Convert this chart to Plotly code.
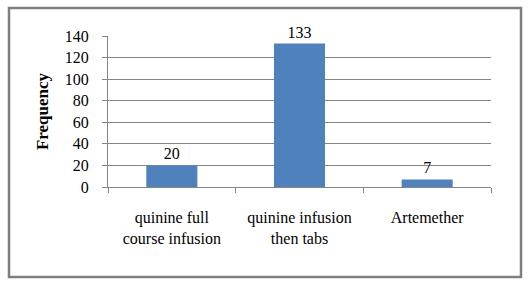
import plotly.graph_objects as go

categories = ["quinine full<br>course infusion", "quinine infusion<br>then tabs", "Artemether"]
values = [20, 133, 7]
y_ticks = [0, 20, 40, 60, 80, 100, 120, 140]

W, H = 530, 289
L, R, T, B = 108, 39, 36, 102
pw, ph = W - L - R, H - T - B

def px_x(x):
    return (x - L) / pw

def px_y(y):
    return (H - B - y) / ph

fig = go.Figure(go.Bar(
    x=categories, y=values, width=0.4,
    marker=dict(color="#4F81BD", line=dict(width=0)),
    text=[str(v) for v in values], textposition="outside",
    textfont=dict(family="Liberation Serif", size=16, color="black"),
    cliponaxis=False,
))

fig.update_layout(
    width=W, height=H,
    margin=dict(l=L, r=R, t=T, b=B, autoexpand=False),
    paper_bgcolor="white", plot_bgcolor="white",
    showlegend=False,
    font=dict(family="Liberation Serif", size=16, color="black"),
    bargap=0.6,
)
fig.update_xaxes(
    type="category", showline=True, linecolor="#868686", linewidth=1,
    ticks="outside", tickson="boundaries", ticklen=5, tickcolor="#868686",
    showgrid=False, tickfont=dict(size=16), ticklabelstandoff=16,
    automargin=False,
)
fig.update_yaxes(
    range=[0, 140], tickvals=y_ticks, showline=True, linecolor="#868686", linewidth=1,
    ticks="outside", ticklen=5, tickcolor="#868686",
    showgrid=True, gridcolor="#868686", gridwidth=1, zeroline=False,
    tickfont=dict(size=16), ticklabelstandoff=10, automargin=False,
    title=dict(text="<b>Frequency</b>", font=dict(size=17), standoff=11),
)
fig.add_shape(type="rect", xref="paper", yref="paper",
              x0=px_x(9), x1=px_x(521), y0=px_y(277), y1=px_y(8),
              line=dict(color="#7F7F7F", width=2.5), fillcolor="rgba(0,0,0,0)")

fig.write_html("out.html", config={"displayModeBar": False},
               post_script="document.body.style.margin='0';")
